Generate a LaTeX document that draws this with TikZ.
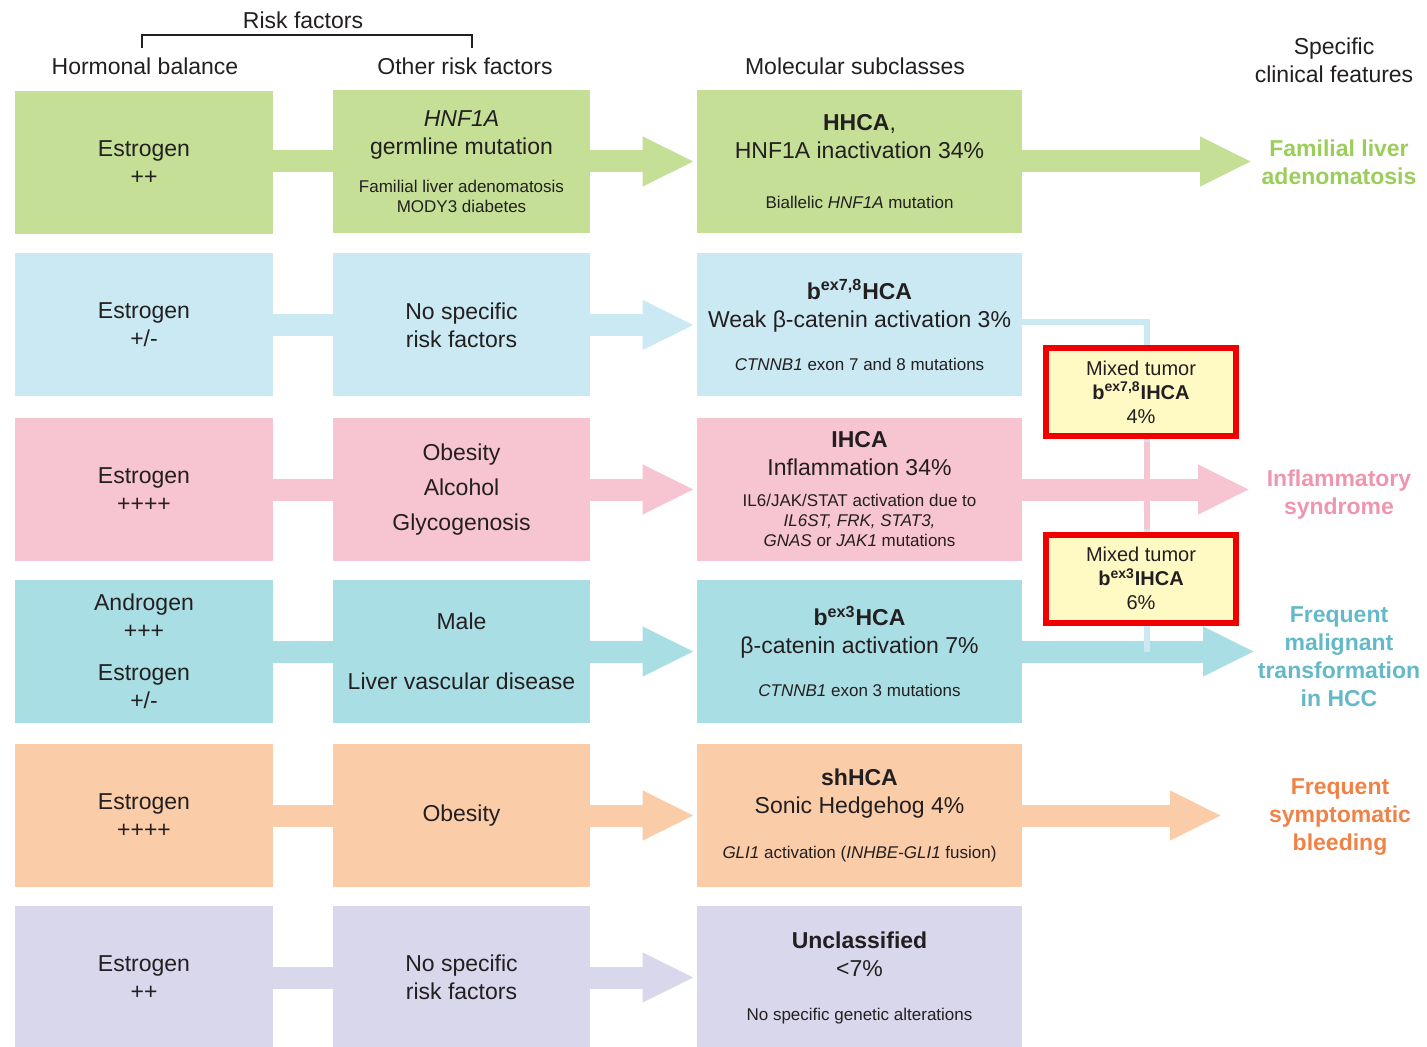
\documentclass[tikz,border=0pt]{standalone}
\usepackage{fontspec}
\setmainfont{Liberation Sans}
\usepackage{xcolor}
\usetikzlibrary{arrows.meta}

\definecolor{rowA}{RGB}{197,224,150}
\definecolor{rowB}{RGB}{202,233,243}
\definecolor{rowC}{RGB}{247,196,210}
\definecolor{rowD}{RGB}{170,222,229}
\definecolor{rowE}{RGB}{251,204,168}
\definecolor{rowF}{RGB}{217,215,236}
\definecolor{labA}{RGB}{155,205,90}
\definecolor{labC}{RGB}{238,150,175}
\definecolor{labD}{RGB}{100,185,200}
\definecolor{labE}{RGB}{240,130,70}
\definecolor{txt}{RGB}{35,31,32}
\definecolor{mixfill}{RGB}{255,249,196}
\definecolor{mixline}{RGB}{240,0,0}

\newcommand{\boxh}{71.5pt}
\newcommand{\mainsz}{\fontsize{11.5}{14}\selectfont}
\newcommand{\smallsz}[2]{\par\vspace{#1}{\fontsize{8.5}{10}\selectfont #2\par}}

\begin{document}
\begin{tikzpicture}[x=0.5pt, y=-0.5pt, >=stealth,
    box/.style={fill=#1, minimum height=\boxh, inner sep=0pt, align=flush center, font=\mainsz, text=txt},
    colA/.style={box=#1, minimum width=129pt, text width=124pt},
    colB/.style={box=#1, minimum width=128.5pt, text width=124pt},
    colC/.style={box=#1, minimum width=162.5pt, text width=160pt},
    band/.style={draw=#1, line width=11pt},
    arr/.style={band=#1, -{Triangle[length=26pt,width=23pt]}, shorten >=1pt},
    link/.style={draw=#1, line width=3pt},
    mixbox/.style={draw=mixline, line width=3pt, fill=mixfill, minimum width=95pt, minimum height=44pt,
        inner sep=0pt, align=center, font=\fontsize{10}{12}\selectfont, text=txt},
    head/.style={align=center, font=\mainsz, text=txt},
    feat/.style={align=center, font=\mainsz\bfseries, text=#1}]
        \useasboundingbox (0,0) rectangle (1427,1047);
        % headers
        \node[head] (rf) at (303,20) {Risk factors};
        \node[head] (hh) at (145,66) {Hormonal balance};
        \node[head] (ho) at (465,66) {Other risk factors};
        \node[head] (hm) at (855,66) {Molecular subclasses};
        \node[head] (hs) at (1334,60) {Specific\\clinical features};
        \draw[txt, line width=0.8pt] ([xshift=-1.5pt]hh.north |- 0,48) -- ([xshift=-1.5pt]hh.north |- 0,35)
            -- ([xshift=3.5pt]ho.north |- 0,35) -- ([xshift=3.5pt]ho.north |- 0,48);
        % hormonal balance
        \node[colA=rowA] (h1) at (144,163) {Estrogen\\++};
        \node[colA=rowB] (h2) at (144,325) {Estrogen\\+/-};
        \node[colA=rowC] (h3) at (144,489.5) {Estrogen\\++++};
        \node[colA=rowD] (h4) at (144,651.5) {Androgen\\+++\\[7pt]Estrogen\\+/-};
        \node[colA=rowE] (h5) at (144,815.5) {Estrogen\\++++};
        \node[colA=rowF] (h6) at (144,977.5) {Estrogen\\++};
        % other risk factors
        \node[colB=rowA] (o1) at (461.5,161.5) {\textit{HNF1A}\\germline mutation\smallsz{9pt}{Familial liver adenomatosis\\MODY3 diabetes}};
        \node[colB=rowB] (o2) at (461.5,325) {No specific\\risk factors};
        \node[colB=rowC] (o3) at (461.5,489.5) {Obesity\\[3.5pt]Alcohol\\[3.5pt]Glycogenosis};
        \node[colB=rowD] (o4) at (461.5,651.5) {Male\\[16pt]Liver vascular disease};
        \node[colB=rowE] (o5) at (461.5,815.5) {Obesity};
        \node[colB=rowF] (o6) at (461.5,977.5) {No specific\\risk factors};
        % molecular subclasses
        \node[colC=rowA] (m1) at (859.5,161.5) {\textbf{HHCA},\\HNF1A inactivation 34\%\smallsz{15pt}{Biallelic \textit{HNF1A} mutation}};
        \node[colC=rowB] (m2) at (859.5,325) {\textbf{b\textsuperscript{ex7,8}HCA}\\Weak β-catenin activation 3\%\smallsz{11.5pt}{\textit{CTNNB1} exon 7 and 8 mutations}};
        \node[colC=rowC] (m3) at (859.5,489.5) {\textbf{IHCA}\\Inflammation 34\%\smallsz{5.5pt}{IL6/JAK/STAT activation due to\\\textit{IL6ST, FRK, STAT3,}\\\textit{GNAS} or \textit{JAK1} mutations}};
        \node[colC=rowD] (m4) at (859.5,651.5) {\textbf{b\textsuperscript{ex3}HCA}\\β-catenin activation 7\%\smallsz{11.5pt}{\textit{CTNNB1} exon 3 mutations}};
        \node[colC=rowE] (m5) at (859.5,815.5) {\textbf{shHCA}\\Sonic Hedgehog 4\%\smallsz{12.5pt}{\textit{GLI1} activation (\textit{INHBE-GLI1} fusion)}};
        \node[colC=rowF] (m6) at (859.5,977.5) {\textbf{Unclassified}\\<7\%\smallsz{12pt}{No specific genetic alterations}};
        % specific clinical features
        \node[feat=labA] (c1) at (1339,162) {Familial liver\\adenomatosis};
        \node[feat=labC] (c3) at (1339,495) {Inflammatory\\syndrome};
        \node[feat=labD] (c4) at (1339,657) {Frequent\\malignant\\transformation\\in HCC};
        \node[feat=labE] (c5) at (1340,817) {Frequent\\symptomatic\\bleeding};
        \coordinate (t1) at (1252,161.5);
        \coordinate (t3) at (1250,485);
        \coordinate (t4) at (1255,651.5);
        \coordinate (t5) at (1222,815.5);
        % arrows
        \foreach \r/\c in {1/rowA,2/rowB,3/rowC,4/rowD,5/rowE,6/rowF} {
            \draw[band=\c] (h\r.east |- o\r.west) -- (o\r.west);
            \draw[arr=\c] (o\r.east) -- (m\r.west);
        }
        \foreach \r/\c in {1/rowA,3/rowC,4/rowD,5/rowE} {
            \draw[arr=\c, shorten >=0pt] (m\r.east) -- (m\r.east -| t\r);
        }
        % mixed tumors
        \coordinate (vl) at (1147,651.5);
        \draw[link=rowB] ([yshift=1.5pt]m2.east) -| (vl);
        \node[mixbox] (x1) at (1141,392) {Mixed tumor\\\textbf{b\textsuperscript{ex7,8}IHCA}\\4\%};
        \node[mixbox] (x2) at (1141,578.5) {Mixed tumor\\\textbf{b\textsuperscript{ex3}IHCA}\\6\%};
        \draw[link=rowC, shorten <=1.5pt, shorten >=1.5pt] (x1.south -| vl) -- (x2.north -| vl);
    \end{tikzpicture}
\end{document}
